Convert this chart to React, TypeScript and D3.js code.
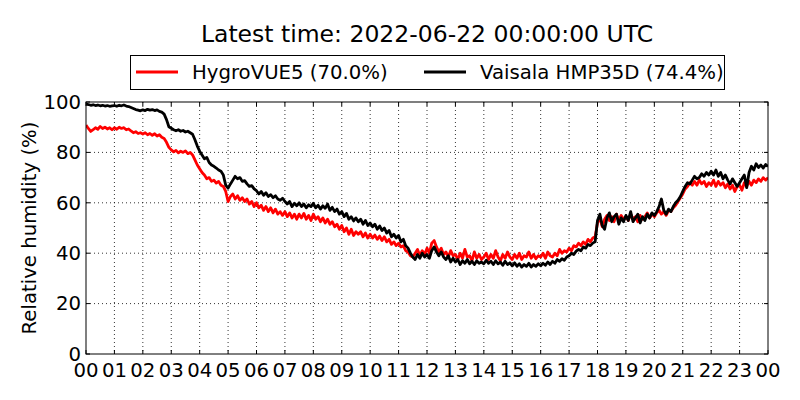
import { useRef, useEffect } from 'react';
import * as d3 from 'd3';

const title = 'Latest time: 2022-06-22 00:00:00 UTC';
const yLabel = 'Relative humidity (%)';
const hourLabels = ['00', '01', '02', '03', '04', '05', '06', '07', '08', '09', '10', '11',
  '12', '13', '14', '15', '16', '17', '18', '19', '20', '21', '22', '23', '00'];
const yTicks = [0, 20, 40, 60, 80, 100];
const stepMinutes = 5;

// HygroVUE5, one value every 5 minutes, one row per hour
const rhHygro = [
  90.8, 89.5, 88.3, 89.0, 89.8, 89.2, 90.3, 89.5, 90.0, 89.3, 89.8, 89.0,
  89.8, 89.2, 90.0, 89.5, 89.8, 89.0, 89.3, 88.5, 87.8, 88.2, 87.5, 87.8,
  87.3, 87.8, 87.0, 87.5, 86.8, 87.4, 86.5, 87.0, 86.0, 85.5, 84.0, 82.0,
  81.0, 80.2, 80.8, 79.8, 80.5, 80.0, 80.6, 79.5, 80.0, 79.0, 77.0, 75.0,
  73.5, 72.0, 71.0, 69.5, 70.0, 68.5, 69.0, 67.8, 68.5, 67.0, 66.5, 64.5,
  60.5, 62.5, 63.5, 61.5, 62.8, 61.0, 62.0, 60.5, 61.5, 59.5, 60.5, 58.5,
  60.0, 58.0, 59.0, 57.0, 58.5, 56.5, 58.0, 56.0, 57.5, 55.5, 56.5, 55.0,
  56.5, 54.5, 56.0, 54.0, 55.5, 53.5, 55.5, 54.0, 55.8, 53.5, 55.0, 53.0,
  55.5, 53.5, 54.5, 52.5, 54.0, 52.0, 53.5, 51.5, 52.5, 50.5, 51.5, 49.5,
  51.0, 48.5, 50.0, 47.5, 49.5, 47.0, 48.5, 47.5, 48.5, 46.5, 48.0, 46.0,
  47.5, 46.0, 47.2, 45.5, 46.8, 45.0, 46.5, 44.5, 45.5, 43.5, 44.5, 43.0,
  44.0, 42.5, 43.0, 41.0, 40.5, 39.0, 38.5, 40.0, 41.5, 39.0, 41.0, 39.5,
  42.0, 40.0, 44.0, 45.0, 42.5, 40.5, 42.0, 39.5, 40.5, 38.5, 41.0, 39.0,
  39.5, 37.5, 40.0, 38.0, 41.5, 38.5, 39.0, 37.0, 40.5, 38.0, 39.5, 37.5,
  38.5, 40.0, 37.5, 39.5, 38.0, 41.0, 38.5, 37.0, 39.5, 38.0, 40.5, 38.5,
  37.5, 39.5, 38.0, 40.0, 37.5, 39.0, 38.5, 40.5, 38.0, 39.5, 37.8, 39.0,
  38.5, 40.0, 38.0, 40.5, 39.0, 38.5, 40.0, 39.0, 41.5, 40.0, 41.0, 40.5,
  42.0, 41.0, 43.0, 42.5, 44.0, 43.0, 44.5, 43.5, 45.5, 44.5, 46.0, 46.5,
  52.0, 54.0, 50.5, 53.5, 55.0, 53.0, 54.5, 52.5, 55.5, 53.0, 55.0, 53.5,
  54.5, 53.0, 55.5, 53.5, 54.5, 52.5, 55.0, 53.5, 54.5, 56.0, 54.0, 55.5,
  54.5, 56.0, 57.0, 55.5, 56.5, 55.0, 57.0, 56.5, 58.0, 59.0, 60.5, 62.0,
  63.5, 65.5, 66.5, 68.0, 67.0, 68.5, 67.0, 69.0, 67.5, 68.5, 66.5, 68.0,
  67.0, 69.0, 66.5, 68.5, 67.0, 68.0, 66.0, 67.5, 65.5, 67.0, 64.5, 66.5,
  67.0, 65.0, 68.0, 66.5, 68.5, 67.0, 69.0, 68.0, 69.5, 68.5, 70.0, 69.0,
  70.0,
];

// Vaisala HMP35D, same sampling
const rhVaisala = [
  99.2, 99.0, 98.7, 98.9, 98.6, 98.8, 98.5, 98.7, 98.4, 98.6, 98.3, 98.5,
  98.6, 98.3, 98.7, 98.5, 98.8, 98.4, 98.2, 97.8, 97.4, 97.0, 96.8, 96.5,
  96.9, 96.6, 97.1, 96.8, 97.0, 96.6, 96.9, 96.3, 96.0, 95.2, 93.0, 90.2,
  89.6, 89.0, 88.6, 89.0, 88.4, 88.7, 88.1, 88.4, 87.8, 87.2, 85.0, 82.5,
  80.5, 79.0, 77.5, 78.0, 76.0, 75.0, 74.5, 73.8, 73.0, 72.5, 71.0, 67.0,
  65.8, 67.5, 69.0, 70.5, 69.5, 70.0, 68.5, 68.8, 67.5, 66.5, 66.8, 65.5,
  64.8, 63.5, 64.5, 63.0, 64.0, 62.5, 63.2, 62.0, 62.8, 61.5, 61.0, 61.8,
  60.5, 59.5, 60.5, 58.5, 59.8, 58.8, 60.0, 58.5, 59.5, 58.0, 59.2, 58.5,
  59.8, 58.0, 59.0, 57.5, 58.8, 57.8, 59.5, 57.0, 58.2, 56.5, 57.5, 55.5,
  56.5, 54.5, 55.8, 53.5, 54.5, 52.8, 54.0, 52.5, 53.5, 51.5, 53.0, 51.0,
  52.0, 50.5, 51.5, 49.5, 50.8, 49.0, 50.0, 48.0, 49.0, 46.5, 47.5, 46.0,
  47.0, 44.5, 45.5, 43.0, 42.0, 40.0, 38.5, 37.5, 39.5, 38.0, 40.0, 38.5,
  39.5, 38.0, 41.0, 42.5, 40.5, 39.0, 40.5, 38.5, 37.5, 39.0, 36.5, 38.0,
  36.5, 37.5, 35.5, 37.0, 36.0, 37.5, 35.8, 36.8, 35.5, 37.0, 36.0, 36.5,
  35.8, 37.2, 36.0, 36.8, 35.5, 37.0, 35.8, 36.5, 35.2, 36.8, 35.5, 36.2,
  35.0, 36.2, 34.8, 35.8, 34.5, 35.5, 34.8, 36.0, 34.5, 35.5, 34.8, 35.8,
  35.0, 36.0, 35.2, 36.5, 35.5, 36.8, 36.0, 37.5, 36.8, 37.8, 37.2, 38.5,
  39.0, 40.0, 39.5, 40.8, 41.5, 41.0, 42.5, 42.0, 43.5, 43.0, 44.0, 44.5,
  53.0, 55.5, 51.0, 49.5, 54.0, 56.0, 52.5, 54.5, 55.5, 51.5, 54.0, 52.5,
  55.0, 53.0, 56.5, 52.5, 54.0, 55.5, 52.0, 54.5, 53.0, 55.5, 54.0, 56.0,
  55.0, 56.5, 58.5, 61.5, 57.0, 55.5, 57.5, 56.5, 58.5, 60.0, 61.0, 62.5,
  64.5, 66.5, 68.0, 67.5, 69.0, 70.5, 69.5, 70.0, 71.5, 70.5, 72.0, 71.0,
  72.5, 71.0, 73.0, 70.5, 72.0, 69.5, 71.0, 69.0, 67.5, 69.5, 68.0, 66.5,
  68.0, 69.5, 71.0, 66.0, 72.0, 74.5, 73.0, 75.5, 74.0, 75.0, 73.8, 75.2,
  74.4,
];

const series = [
  { name: 'HygroVUE5 (70.0%)', color: '#ff0000', values: rhHygro },
  { name: 'Vaisala HMP35D (74.4%)', color: '#000000', values: rhVaisala },
];

export default function App() {
  const svgRef = useRef<SVGSVGElement>(null);
  const width = 800;
  const height = 400;

  useEffect(() => {
    if (!svgRef.current) return;
    const svg = d3.select(svgRef.current);
    svg.selectAll('*').remove();

    const margin = { top: 102, right: 32, bottom: 46, left: 86 };
    const innerWidth = width - margin.left - margin.right;
    const innerHeight = height - margin.top - margin.bottom;
    const font = 'DejaVu Sans, sans-serif';

    const x = d3.scaleLinear().domain([0, 24]).range([0, innerWidth]);
    const y = d3.scaleLinear().domain([0, 100]).range([innerHeight, 0]);

    svg.append('rect').attr('width', width).attr('height', height).attr('fill', '#fff');

    const g = svg.append('g').attr('transform', `translate(${margin.left},${margin.top})`);

    // Dotted grid
    g.selectAll('line.vgrid')
      .data(d3.range(1, 24))
      .join('line')
      .attr('class', 'vgrid')
      .attr('x1', (d) => x(d))
      .attr('x2', (d) => x(d))
      .attr('y1', 0)
      .attr('y2', innerHeight)
      .attr('stroke', '#000')
      .attr('stroke-width', 0.8)
      .attr('stroke-dasharray', '1,3');

    g.selectAll('line.hgrid')
      .data(yTicks.slice(1, -1))
      .join('line')
      .attr('class', 'hgrid')
      .attr('x1', 0)
      .attr('x2', innerWidth)
      .attr('y1', (d) => y(d))
      .attr('y2', (d) => y(d))
      .attr('stroke', '#000')
      .attr('stroke-width', 0.8)
      .attr('stroke-dasharray', '1,3');

    // Lines
    const clip = svg.append('clipPath').attr('id', 'plot-clip');
    clip.append('rect').attr('width', innerWidth).attr('height', innerHeight);

    const line = d3.line<number>()
      .x((_, i) => x((i * stepMinutes) / 60))
      .y((d) => y(d));

    g.append('g')
      .attr('clip-path', 'url(#plot-clip)')
      .selectAll('path')
      .data(series)
      .join('path')
      .attr('d', (d) => line(d.values))
      .attr('fill', 'none')
      .attr('stroke', (d) => d.color)
      .attr('stroke-width', 2.8)
      .attr('stroke-linejoin', 'round');

    // Frame
    g.append('rect')
      .attr('width', innerWidth)
      .attr('height', innerHeight)
      .attr('fill', 'none')
      .attr('stroke', '#000')
      .attr('stroke-width', 1);

    // Inward ticks on all four sides
    const tickLen = 4;
    hourLabels.forEach((_, i) => {
      g.append('line').attr('x1', x(i)).attr('x2', x(i)).attr('y1', innerHeight).attr('y2', innerHeight - tickLen).attr('stroke', '#000');
      g.append('line').attr('x1', x(i)).attr('x2', x(i)).attr('y1', 0).attr('y2', tickLen).attr('stroke', '#000');
    });
    yTicks.forEach((v) => {
      g.append('line').attr('x1', 0).attr('x2', tickLen).attr('y1', y(v)).attr('y2', y(v)).attr('stroke', '#000');
      g.append('line').attr('x1', innerWidth).attr('x2', innerWidth - tickLen).attr('y1', y(v)).attr('y2', y(v)).attr('stroke', '#000');
    });

    // Tick labels
    g.selectAll('text.xlab')
      .data(hourLabels)
      .join('text')
      .attr('class', 'xlab')
      .attr('x', (_, i) => x(i))
      .attr('y', innerHeight + 23)
      .attr('text-anchor', 'middle')
      .attr('font-family', font)
      .attr('font-size', '19.7px')
      .attr('fill', '#000')
      .text((d) => d);

    g.selectAll('text.ylab')
      .data(yTicks)
      .join('text')
      .attr('class', 'ylab')
      .attr('x', -5)
      .attr('y', (d) => y(d))
      .attr('dy', '0.35em')
      .attr('text-anchor', 'end')
      .attr('font-family', font)
      .attr('font-size', '19.7px')
      .attr('fill', '#000')
      .text((d) => d);

    // Axis label
    svg.append('text')
      .attr('transform', `translate(36,${margin.top + innerHeight / 2}) rotate(-90)`)
      .attr('text-anchor', 'middle')
      .attr('font-family', font)
      .attr('font-size', '19.7px')
      .attr('fill', '#000')
      .text(yLabel);

    // Title
    svg.append('text')
      .attr('x', margin.left + innerWidth / 2)
      .attr('y', 42)
      .attr('text-anchor', 'middle')
      .attr('font-family', font)
      .attr('font-size', '23.5px')
      .attr('fill', '#000')
      .text(title);

    // Legend
    const legend = svg.append('g');
    legend.append('rect')
      .attr('x', 130.5)
      .attr('y', 55.5)
      .attr('width', 594)
      .attr('height', 34)
      .attr('fill', '#fff')
      .attr('stroke', '#000')
      .attr('stroke-width', 1);

    const legendX = [136, 424];
    series.forEach((s, i) => {
      legend.append('line')
        .attr('x1', legendX[i])
        .attr('x2', legendX[i] + 42)
        .attr('y1', 72)
        .attr('y2', 72)
        .attr('stroke', s.color)
        .attr('stroke-width', 2.8);
      legend.append('text')
        .attr('x', legendX[i] + 56)
        .attr('y', 72)
        .attr('dy', '0.35em')
        .attr('font-family', font)
        .attr('font-size', '19.7px')
        .attr('fill', '#000')
        .text(s.name);
    });
  }, []);

  return (
    <svg
      ref={svgRef}
      width={width}
      height={height}
      viewBox={`0 0 ${width} ${height}`}
      style={{ position: 'absolute', left: 0, top: 0 }}
    />
  );
}
